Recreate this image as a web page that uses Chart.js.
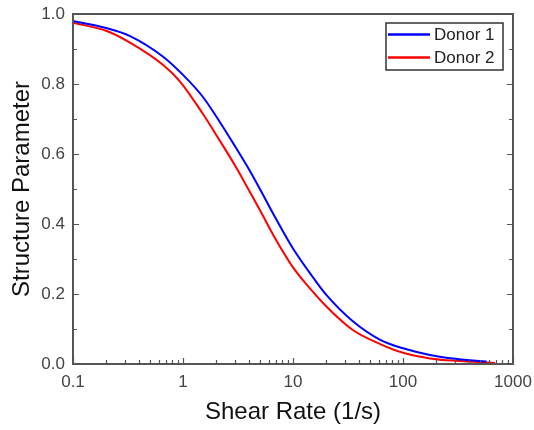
<!DOCTYPE html>
<html>
<head>
<meta charset="utf-8">
<script src="https://cdn.jsdelivr.net/npm/chart.js@4/dist/chart.umd.min.js"></script>
<style>
  body { margin: 0; background: #fff; }
</style>
</head>
<body>
<canvas id="chart" width="534" height="430"></canvas>
<script>
// Shear rates (1/s) and structure parameter
const donor1Rates = [0.1, 0.2, 0.33, 0.66, 1, 1.5, 2, 3, 4, 5, 7, 10, 15, 20, 35, 62, 100, 176, 300, 575];
const donor1Values = [0.98, 0.96, 0.937, 0.878, 0.826, 0.765, 0.708, 0.62, 0.555, 0.5, 0.415, 0.33, 0.25, 0.198, 0.122, 0.069, 0.045, 0.026, 0.015, 0.007];

const donor2Rates = [0.1, 0.2, 0.33, 0.66, 0.94, 1.5, 2, 3, 4, 5, 7, 10, 15, 20, 35, 62, 100, 176, 300, 686];
const donor2Values = [0.975, 0.952, 0.918, 0.854, 0.807, 0.717, 0.655, 0.565, 0.495, 0.44, 0.355, 0.276, 0.208, 0.165, 0.097, 0.057, 0.032, 0.016, 0.009, 0.003];

const xTickLabels = ['0.1', '1', '10', '100', '1000'];
const yTickLabels = ['0.0', '0.2', '0.4', '0.6', '0.8', '1.0'];

const toPoints = (xs, ys) => xs.map((x, i) => ({ x, y: ys[i] }));

// Frame, inward ticks and boxed legend
const framePlugin = {
  id: 'frame',
  afterDraw(chart) {
    const { ctx, chartArea: a, scales } = chart;
    const xs = scales.x;
    const ys = scales.y;
    ctx.save();
    ctx.strokeStyle = '#555';
    ctx.lineWidth = 2;
    ctx.strokeRect(a.left, a.top, a.right - a.left, a.bottom - a.top);

    ctx.lineWidth = 1.2;
    ctx.beginPath();
    // y ticks, both sides
    for (let i = 0; i <= 10; i++) {
      const py = Math.round(ys.getPixelForValue(i / 10)) + 0.5;
      const len = i % 2 === 0 ? 6 : 4;
      ctx.moveTo(a.left, py);
      ctx.lineTo(a.left + len, py);
      ctx.moveTo(a.right, py);
      ctx.lineTo(a.right - len, py);
    }
    // x ticks, bottom only
    for (let d = -1; d <= 3; d++) {
      for (let k = 1; k <= 9; k++) {
        const v = k * Math.pow(10, d);
        if (v > 1000) break;
        const px = Math.round(xs.getPixelForValue(v)) + 0.5;
        const len = k === 1 ? 6 : 4;
        ctx.moveTo(px, a.bottom);
        ctx.lineTo(px, a.bottom - len);
      }
    }
    ctx.stroke();

    // legend
    const lx = 386, ly = 23, lw = 117, lh = 47;
    ctx.fillStyle = '#fff';
    ctx.fillRect(lx, ly, lw, lh);
    ctx.strokeStyle = '#333';
    ctx.lineWidth = 1.5;
    ctx.strokeRect(lx, ly, lw, lh);
    ctx.font = '17px "Liberation Sans", Arial, sans-serif';
    ctx.textBaseline = 'middle';
    chart.data.datasets.forEach((ds, i) => {
      const ry = ly + 11.5 + i * 23;
      ctx.strokeStyle = ds.borderColor;
      ctx.lineWidth = 2.5;
      ctx.beginPath();
      ctx.moveTo(lx + 2, ry);
      ctx.lineTo(lx + 44, ry);
      ctx.stroke();
      ctx.fillStyle = '#222';
      ctx.fillText(ds.label, lx + 48, ry + 1);
    });
    ctx.restore();
  },
};

new Chart(document.getElementById('chart'), {
  type: 'line',
  data: {
    datasets: [
      {
        label: 'Donor 1',
        data: toPoints(donor1Rates, donor1Values),
        borderColor: '#0000ff',
        borderWidth: 2,
        pointRadius: 0,
        cubicInterpolationMode: 'monotone',
        fill: false,
      },
      {
        label: 'Donor 2',
        data: toPoints(donor2Rates, donor2Values),
        borderColor: '#ff0000',
        borderWidth: 2,
        pointRadius: 0,
        cubicInterpolationMode: 'monotone',
        fill: false,
      },
    ],
  },
  options: {
    responsive: false,
    animation: false,
    layout: { padding: { top: 14, right: 21, left: 0, bottom: 0 } },
    plugins: { legend: { display: false }, tooltip: { enabled: false } },
    scales: {
      x: {
        type: 'logarithmic',
        min: 0.1,
        max: 1000,
        grid: { display: false, drawTicks: false },
        border: { display: false },
        afterFit: (s) => {
          s.height = 66;
          s.paddingLeft = 0;
          s.paddingRight = 0;
        },
        afterBuildTicks: (s) => {
          s.ticks = xTickLabels.map((t) => ({ value: parseFloat(t) }));
        },
        ticks: {
          autoSkip: false,
          maxRotation: 0,
          padding: 8,
          color: '#444',
          font: { family: '"Liberation Sans", Arial, sans-serif', size: 17 },
          callback: (v) => xTickLabels.find((t) => parseFloat(t) === v) || '',
        },
        title: {
          display: true,
          text: 'Shear Rate (1/s)',
          color: '#111',
          padding: { top: 0, bottom: 3 },
          font: { family: '"Liberation Sans", Arial, sans-serif', size: 24 },
        },
      },
      y: {
        min: 0,
        max: 1,
        grid: { display: false, drawTicks: false },
        border: { display: false },
        afterFit: (s) => {
          s.width = 73;
          s.paddingTop = 0;
          s.paddingBottom = 0;
        },
        afterBuildTicks: (s) => {
          s.ticks = yTickLabels.map((t) => ({ value: parseFloat(t) }));
        },
        ticks: {
          padding: 8,
          color: '#444',
          font: { family: '"Liberation Sans", Arial, sans-serif', size: 17 },
          callback: (v) => v.toFixed(1),
        },
        title: {
          display: true,
          text: 'Structure Parameter',
          color: '#111',
          padding: { top: 8, bottom: 0 },
          font: { family: '"Liberation Sans", Arial, sans-serif', size: 24 },
        },
      },
    },
  },
  plugins: [framePlugin],
});
</script>
</body>
</html>
